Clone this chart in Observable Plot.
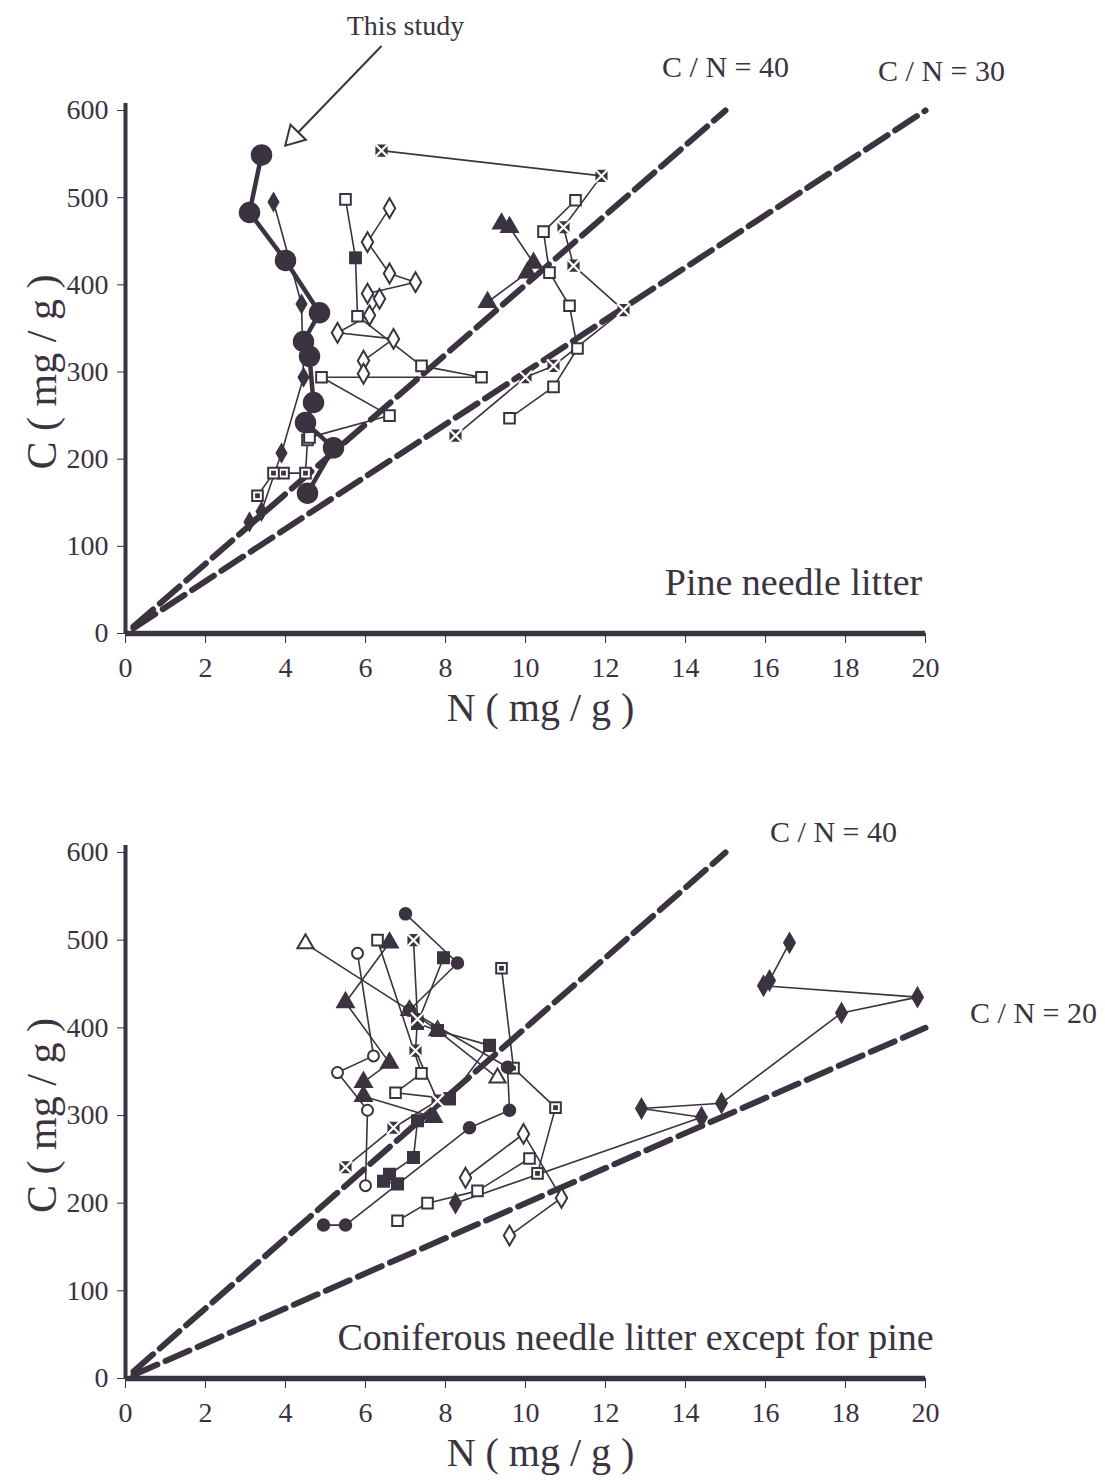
<!DOCTYPE html>
<html>
<head>
<meta charset="utf-8">
<script src="https://cdn.jsdelivr.net/npm/d3@7"></script>
<script src="https://cdn.jsdelivr.net/npm/@observablehq/plot@0.6"></script>
<style>
  body { margin: 0; background: #fff; }
  #chart svg { display: block; }
</style>
</head>
<body>
<div id="chart"></div>
<script>
// ---------- DATA (N in mg/g, C in mg/g) ----------
const xTicks = [0, 2, 4, 6, 8, 10, 12, 14, 16, 18, 20];
const yTicks = [0, 100, 200, 300, 400, 500, 600];

// Top panel: pine needle litter
const topStudyN = [3.4, 3.1, 4.0, 4.85, 4.45, 4.6, 4.7, 4.5, 5.2, 4.55];
const topStudyC = [549, 483, 428, 368, 335, 318, 265, 242, 213, 161];
const topDiaFilledN = [3.7, 4.4, 4.45, 3.9, 3.4, 3.1];
const topDiaFilledC = [495, 378, 294, 207, 140, 128];
const topSqLowN = [4.55, 4.5, 3.95, 3.7, 3.3];
const topSqLowC = [222, 184, 184, 184, 158];
const topSqMidN = [5.5, 5.75, 5.8, 7.4, 8.9, 4.9, 6.6, 4.6];
const topSqMidC = [498, 431, 364, 307, 294, 294, 250, 225];
const topSqMidFilledN = [5.75];
const topSqMidFilledC = [431];
const topDiaOpenN = [6.6, 6.05, 6.6, 7.25, 6.05, 6.35, 6.1, 5.3, 6.7, 5.95, 5.95];
const topDiaOpenC = [488, 449, 413, 403, 390, 384, 365, 345, 338, 313, 298];
const topTriFilledN = [9.4, 9.6, 10.2, 10.05, 9.05];
const topTriFilledC = [470, 466, 425, 414, 380];
const topCrossN = [6.4, 11.9, 10.95, 11.2, 12.45, 10.7, 10.0, 8.25];
const topCrossC = [554, 525, 466, 422, 371, 307, 294, 227];
const topSqRightN = [11.25, 10.45, 10.6, 11.1, 11.3, 10.7, 9.6];
const topSqRightC = [497, 461, 414, 376, 327, 283, 247];

// Bottom panel: coniferous needle litter except pine
const botCircFilledN = [7.0, 8.3, 7.1, 9.55, 9.6, 8.6, 5.5, 4.95];
const botCircFilledC = [530, 474, 420, 355, 306, 286, 175, 175];
const botSqFilledN = [7.95, 7.3, 7.8, 9.1, 8.1, 7.3, 7.2, 6.6, 6.45, 6.8];
const botSqFilledC = [480, 405, 397, 380, 319, 294, 252, 233, 225, 222];
const botCrossN = [7.2, 7.3, 7.25, 7.8, 6.7, 5.5];
const botCrossC = [500, 410, 374, 317, 286, 241];
const botTriOpenN = [4.5, 7.1, 7.8, 9.3];
const botTriOpenC = [496, 420, 397, 343];
const botCircOpenN = [5.8, 6.2, 5.3, 6.05, 6.0];
const botCircOpenC = [485, 368, 349, 306, 220];
const botTriFilledN = [6.6, 5.5, 6.6, 5.95, 5.95, 7.7];
const botTriFilledC = [497, 429, 360, 338, 322, 298];
const botSqDotN = [9.4, 9.7, 10.75, 10.3];
const botSqDotC = [468, 354, 309, 234];
const botSqOpenLowN = [6.8, 7.55, 8.8, 10.1];
const botSqOpenLowC = [180, 200, 214, 251];
const botDiaOpenN = [8.5, 9.95, 10.9, 9.6];
const botDiaOpenC = [229, 279, 206, 163];
const botSqOpenMidN = [6.3, 7.4, 6.75, 8.1];
const botSqOpenMidC = [500, 348, 326, 319];
const botDiaRightN = [16.6, 16.1, 15.95, 19.8, 17.9, 14.9, 12.9, 14.4, 8.25];
const botDiaRightC = [497, 454, 448, 435, 417, 314, 308, 298, 200];

// Reference C/N ratio lines: ratio, end N
const topRatios = [40, 30];
const topRatioEndN = [15, 20];
const botRatios = [40, 20];
const botRatioEndN = [15, 20];

// Annotation texts and anchors (data units)
const topLabelText = ["C / N = 40", "C / N = 30", "This study", "Pine needle litter"];
const topLabelN = [15.0, 20.4, 7.0, 16.7];
const topLabelC = [650, 645, 697, 58];
const topLabelSize = [30, 30, 28, 38];
const botLabelText = ["C / N = 40", "C / N = 20", "Coniferous needle litter except for pine"];
const botLabelN = [17.7, 22.7, 12.75];
const botLabelC = [623, 416, 46];
const botLabelSize = [30, 30, 38];
const arrowFrom = [6.4, 674];
const arrowTo = [4.32, 575];
const arrowHeadAt = [4.21, 570];

// ---------- DRAWING ----------
const INK = "#3b333f";
const FONT = "'Liberation Serif', 'Times New Roman', serif";

const pts = (ns, cs) => ns.map((n, i) => ({n, c: cs[i]}));

function markerMarks(data, mk, r) {
  const base = {x: "n", y: "c", r};
  switch (mk) {
    case "filledCircle": return [Plot.dot(data, {...base, symbol: "circle", fill: INK, stroke: INK})];
    case "openCircle": return [Plot.dot(data, {...base, symbol: "circle", fill: "white", stroke: INK, strokeWidth: 2})];
    case "filledSquare": return [Plot.dot(data, {...base, symbol: "square", fill: INK, stroke: INK})];
    case "openSquare": return [Plot.dot(data, {...base, symbol: "square", fill: "white", stroke: INK, strokeWidth: 2})];
    case "dotSquare": return [
      Plot.dot(data, {...base, symbol: "square", fill: "white", stroke: INK, strokeWidth: 2}),
      Plot.dot(data, {...base, r: r * 0.45, symbol: "square", fill: INK})];
    case "filledDiamond": return [Plot.dot(data, {...base, symbol: "diamond", fill: INK, stroke: INK})];
    case "openDiamond": return [Plot.dot(data, {...base, symbol: "diamond", fill: "white", stroke: INK, strokeWidth: 2})];
    case "filledTriangle": return [Plot.dot(data, {...base, symbol: "triangle", fill: INK, stroke: INK})];
    case "openTriangle": return [Plot.dot(data, {...base, symbol: "triangle", fill: "white", stroke: INK, strokeWidth: 2})];
    case "cross": return [
      Plot.dot(data, {...base, symbol: "square", fill: INK, stroke: INK}),
      Plot.dot(data, {...base, symbol: "times", stroke: "white", strokeWidth: 2.2})];
  }
  return [];
}

function panel({series, ratios, ratioEnd, labels, marginTop, marginBottom, arrow}) {
  const marks = [];
  // data lines
  for (const s of series) {
    if (s.line === false) continue;
    marks.push(Plot.line(pts(s.n, s.c), {x: "n", y: "c", stroke: INK, strokeWidth: s.lw || 1.6, curve: "linear"}));
  }
  // C/N reference dashed lines
  ratios.forEach((ratio, i) => {
    const d = [{n: 0.2, c: 0.2 * ratio}, {n: ratioEnd[i], c: ratioEnd[i] * ratio}];
    marks.push(Plot.line(d, {x: "n", y: "c", stroke: INK, strokeWidth: 6, strokeDasharray: "26,9"}));
  });
  // markers
  for (const s of series) marks.push(...markerMarks(pts(s.n, s.c), s.mk, s.r));
  // axes
  marks.push(Plot.ruleX([0], {y1: 0, y2: 608, stroke: INK, strokeWidth: 4}));
  marks.push(Plot.ruleY([0], {x1: 0, x2: 20, stroke: INK, strokeWidth: 5.5}));
  marks.push(Plot.axisX({ticks: xTicks, tickSize: 10, tickPadding: 14, fontSize: 28, label: null, stroke: INK, fill: INK}));
  marks.push(Plot.axisY({ticks: yTicks, tickSize: 8, tickPadding: 9, fontSize: 28, label: null, stroke: INK, fill: INK}));
  marks.push(Plot.text(["N ( mg / g )"], {text: d => d, frameAnchor: "bottom", textAnchor: "middle", lineAnchor: "middle", dx: 15, dy: 75, fontSize: 40, fill: INK}));
  marks.push(Plot.text(["C ( mg / g )"], {text: d => d, frameAnchor: "left", textAnchor: "middle", lineAnchor: "middle", dx: -83, rotate: -90, fontSize: 42, fill: INK}));
  // labels
  labels.text.forEach((t, i) => {
    marks.push(Plot.text([{n: labels.n[i], c: labels.c[i], t}], {x: "n", y: "c", text: "t", fontSize: labels.size[i], fill: INK}));
  });
  if (arrow) {
    marks.push(Plot.link([{x1: arrow.from[0], y1: arrow.from[1], x2: arrow.to[0], y2: arrow.to[1]}],
      {x1: "x1", y1: "y1", x2: "x2", y2: "y2", stroke: INK, strokeWidth: 2}));
    marks.push(Plot.dot([{n: arrow.head[0], c: arrow.head[1]}],
      {x: "n", y: "c", symbol: "triangle", r: 8, rotate: 224, fill: "white", stroke: INK, strokeWidth: 2}));
  }
  return Plot.plot({
    width: 1105,
    height: 740,
    marginLeft: 125,
    marginRight: 180,
    marginTop,
    marginBottom,
    x: {domain: [0, 20]},
    y: {domain: [0, 600]},
    style: {fontFamily: FONT, color: INK, background: "white"},
    marks
  });
}

const topSeries = [
  {n: topSqLowN, c: topSqLowC, mk: "dotSquare", r: 6},
  {n: topDiaFilledN, c: topDiaFilledC, mk: "filledDiamond", r: 5.5},
  {n: topSqMidN, c: topSqMidC, mk: "openSquare", r: 6},
  {n: topSqMidFilledN, c: topSqMidFilledC, mk: "filledSquare", r: 6, line: false},
  {n: topDiaOpenN, c: topDiaOpenC, mk: "openDiamond", r: 6},
  {n: topTriFilledN, c: topTriFilledC, mk: "filledTriangle", r: 6.5},
  {n: topCrossN, c: topCrossC, mk: "cross", r: 6},
  {n: topSqRightN, c: topSqRightC, mk: "openSquare", r: 6},
  {n: topStudyN, c: topStudyC, mk: "filledCircle", r: 10, lw: 4.5}
];

const botSeries = [
  {n: botSqOpenLowN, c: botSqOpenLowC, mk: "openSquare", r: 6},
  {n: botDiaOpenN, c: botDiaOpenC, mk: "openDiamond", r: 6},
  {n: botSqOpenMidN, c: botSqOpenMidC, mk: "openSquare", r: 6},
  {n: botTriOpenN, c: botTriOpenC, mk: "openTriangle", r: 6},
  {n: botCircOpenN, c: botCircOpenC, mk: "openCircle", r: 5.5},
  {n: botTriFilledN, c: botTriFilledC, mk: "filledTriangle", r: 6.5},
  {n: botSqDotN, c: botSqDotC, mk: "dotSquare", r: 6},
  {n: botSqFilledN, c: botSqFilledC, mk: "filledSquare", r: 6.5},
  {n: botCircFilledN, c: botCircFilledC, mk: "filledCircle", r: 6},
  {n: botCrossN, c: botCrossC, mk: "cross", r: 6},
  {n: botDiaRightN, c: botDiaRightC, mk: "filledDiamond", r: 6}
];

const chart = document.getElementById("chart");
chart.appendChild(panel({
  series: topSeries, ratios: topRatios, ratioEnd: topRatioEndN,
  labels: {text: topLabelText, n: topLabelN, c: topLabelC, size: topLabelSize},
  marginTop: 110, marginBottom: 107,
  arrow: {from: arrowFrom, to: arrowTo, head: arrowHeadAt}
}));
chart.appendChild(panel({
  series: botSeries, ratios: botRatios, ratioEnd: botRatioEndN,
  labels: {text: botLabelText, n: botLabelN, c: botLabelC, size: botLabelSize},
  marginTop: 112, marginBottom: 102
}));
</script>
</body>
</html>
